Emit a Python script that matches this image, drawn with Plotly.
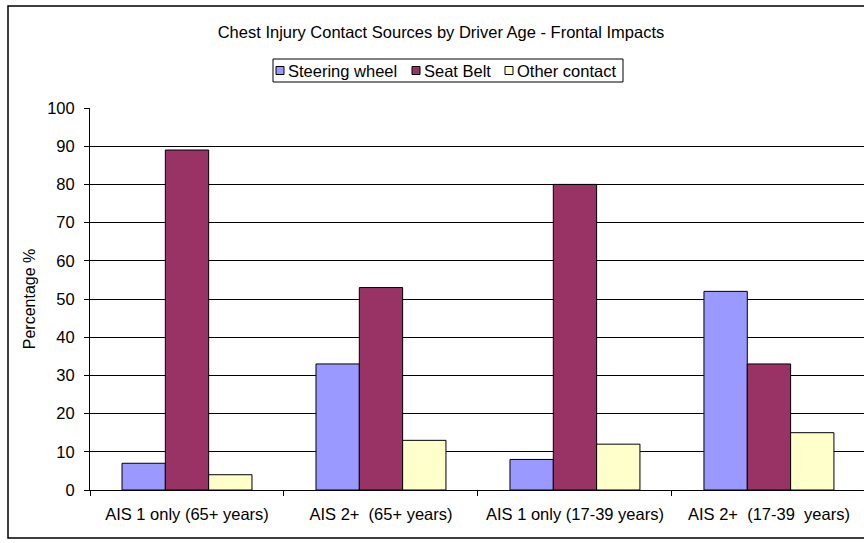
import plotly.graph_objects as go

categories = ["AIS 1 only (65+ years)", "AIS 2+  (65+ years)", "AIS 1 only (17-39 years)", "AIS 2+  (17-39  years)"]
steering_wheel = [7, 33, 8, 52]
seat_belt = [89, 53, 80, 33]
other_contact = [4, 13, 12, 15]
series_names = ["Steering wheel", "Seat Belt", "Other contact"]
series_colors = ["#9999FF", "#993366", "#FFFFCC"]
y_ticks = [0, 10, 20, 30, 40, 50, 60, 70, 80, 90, 100]

FONT = "Liberation Sans, Arial, sans-serif"
FS = 16.5

# plot-area pixel frame (page coordinates)
PL, PR, PT, PB = 90, 864, 108, 490
W, H = 864, 543


def px(x):
    return (x - PL) / (PR - PL)


def py(y):
    return (PB - y) / (PB - PT)


fig = go.Figure()
for name, vals, col in zip(series_names, [steering_wheel, seat_belt, other_contact], series_colors):
    fig.add_trace(go.Bar(
        x=categories, y=vals, name=name, showlegend=False,
        marker=dict(color=col, line=dict(color="#000000", width=1)),
    ))

fig.update_layout(
    width=W, height=H,
    margin=dict(l=PL, r=W - PR, t=PT, b=H - PB),
    paper_bgcolor="white", plot_bgcolor="white",
    barmode="group", bargap=0.33, bargroupgap=0,
    font=dict(family=FONT, size=FS, color="#000000"),
    title=dict(text="Chest Injury Contact Sources by Driver Age - Frontal Impacts",
               x=px(441), xref="paper", xanchor="center",
               y=1 - 32 / H, yref="container", yanchor="middle",
               font=dict(family=FONT, size=FS, color="#000000")),
    xaxis=dict(type="category", range=[-0.5, 3.49], tickson="boundaries",
               ticks="outside", ticklen=5, tickcolor="#000000",
               showline=True, linecolor="#000000", linewidth=1,
               showgrid=False, ticklabelstandoff=9,
               tickfont=dict(family=FONT, size=FS)),
    yaxis=dict(range=[0, 100], tickvals=y_ticks, ticks="outside", ticklen=5,
               tickcolor="#000000", showline=True, linecolor="#000000", linewidth=1,
               showgrid=True, gridcolor="#000000", gridwidth=1, zeroline=False,
               ticklabelstandoff=6,
               tickfont=dict(family=FONT, size=FS),
               title=dict(text="Percentage %", standoff=7,
                          font=dict(family=FONT, size=16))),
)

# outer chart-area border (cropped at the right edge like the reference)
fig.add_shape(type="rect", xref="paper", yref="paper",
              x0=px(8), x1=px(880), y0=py(538), y1=py(6),
              line=dict(color="#000000", width=1.5), fillcolor="rgba(0,0,0,0)", layer="below")

# legend box (Excel style) with swatches and labels
LEG_T, LEG_B, LEG_L, LEG_R = 59, 82, 273, 623
fig.add_shape(type="rect", xref="paper", yref="paper",
              x0=px(LEG_L), x1=px(LEG_R), y0=py(LEG_B), y1=py(LEG_T),
              line=dict(color="#000000", width=1), fillcolor="white")
swatch_left = [276, 412, 505]
sw = 8
cy = (LEG_T + LEG_B) / 2
for name, col, sx in zip(series_names, series_colors, swatch_left):
    fig.add_shape(type="rect", xref="paper", yref="paper",
                  x0=px(sx), x1=px(sx + sw), y0=py(cy + sw / 2), y1=py(cy - sw / 2),
                  line=dict(color="#000000", width=1), fillcolor=col)
    fig.add_annotation(text=name, xref="paper", yref="paper",
                       x=px(sx + sw + 2), y=py(cy), xanchor="left", yanchor="middle",
                       showarrow=False, font=dict(family=FONT, size=FS, color="#000000"))

fig.write_html("out.html", config={"displayModeBar": False},
               post_script="document.body.style.margin='0';")
